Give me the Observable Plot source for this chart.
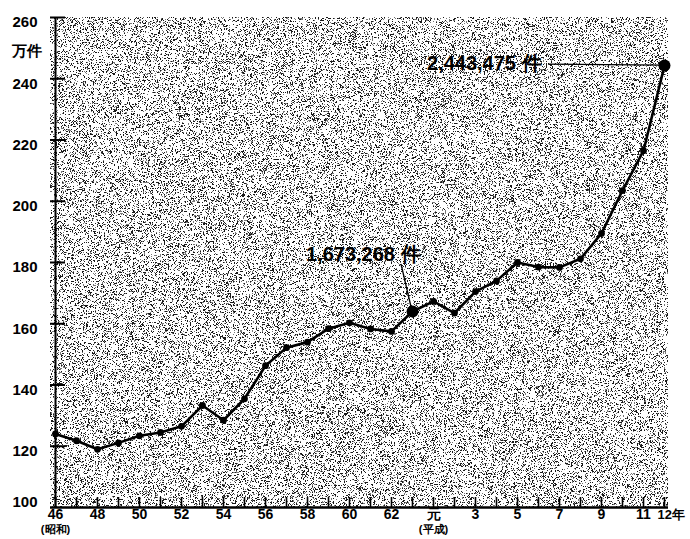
<!DOCTYPE html>
<html>
<head>
<meta charset="utf-8">
<script src="https://cdn.jsdelivr.net/npm/d3@7"></script>
<script src="https://cdn.jsdelivr.net/npm/@observablehq/plot@0.6"></script>
<style>
  html, body { margin: 0; padding: 0; background: white; }
</style>
</head>
<body>
<div id="chart"></div>
<script>
// 年（昭和46年〜平成12年）
const years = ["46","47","48","49","50","51","52","53","54","55","56","57","58","59","60","61","62","63",
               "元","2","3","4","5","6","7","8","9","10","11","12"];
// 認知件数（万件）
const counts = [124.0,121.8,119.0,121.1,123.4,124.5,126.5,133.3,128.5,135.5,146.3,152.2,154.0,158.4,160.3,158.3,157.5,164.0,
                167.3,163.5,170.5,174.0,180.0,178.5,178.4,181.2,189.5,203.5,216.5,244.3];
const yTicks = [100,120,140,160,180,200,220,240,260];
const shownYears = ["46","48","50","52","54","56","58","60","62","元","3","5","7","9","11"];
const lastYear = "12";
const eras = [{at: "46", label: "(昭和)"}, {at: "元", label: "(平成)"}];
const highlightYears = ["63", "12"];
const highlightLabels = ["1,673,268 件", "2,443,475 件"];

const data = years.map((y, i) => ({year: y, value: counts[i]}));
const highlights = highlightYears.map((y, i) => ({year: y, value: counts[years.indexOf(y)], label: highlightLabels[i]}));

const font = "'Liberation Sans', Arial, Helvetica, sans-serif";

const plot = Plot.plot({
  width: 690,
  height: 539,
  marginLeft: 50,
  marginRight: 22,
  marginTop: 17,
  marginBottom: 32,
  style: {fontFamily: font, background: "white", color: "black"},
  x: {type: "point", domain: years, padding: 0, axis: null},
  y: {domain: [100, 260], axis: null},
  marks: [
    Plot.frame({fill: "white", stroke: null}),
    // axes lines
    Plot.ruleX([years[0]], {stroke: "black", strokeWidth: 2}),
    Plot.ruleY([100], {stroke: "black", strokeWidth: 2.5}),
    // inward ticks
    Plot.tickY(yTicks.filter(d => d > 100), {y: d => d, insetRight: 603, stroke: "black", strokeWidth: 2}),
    Plot.tickX(years, {x: d => d, insetTop: 480, stroke: "black", strokeWidth: 1.6}),
    // y labels
    Plot.text(yTicks.filter(d => d > 100), {y: d => d, frameAnchor: "left", dx: -13, dy: 5, textAnchor: "end",
      text: d => String(d), fontSize: 15, fontWeight: "bold"}),
    Plot.text([100], {y: d => d, frameAnchor: "left", dx: -13, dy: -5, textAnchor: "end",
      text: d => String(d), fontSize: 15, fontWeight: "bold"}),
    Plot.text(["万件"], {frameAnchor: "top-left", dx: -9, dy: 28, textAnchor: "end", text: d => d,
      fontSize: 15, fontWeight: "bold"}),
    // x labels
    Plot.text(shownYears, {x: d => d, frameAnchor: "bottom", dy: 11, text: d => d, fontSize: 14, fontWeight: "bold"}),
    Plot.text([lastYear], {x: d => d, frameAnchor: "bottom", dy: 11, dx: -7, textAnchor: "start", text: d => d + "年",
      fontSize: 13, fontWeight: "bold"}),
    Plot.text(eras, {x: "at", frameAnchor: "bottom", dy: 25, text: "label", fontSize: 11, fontWeight: "bold"}),
    // series
    Plot.line(data, {x: "year", y: "value", stroke: "black", strokeWidth: 2.6}),
    Plot.dot(data, {x: "year", y: "value", r: 3.4, fill: "black", stroke: null}),
    Plot.dot(highlights, {x: "year", y: "value", r: 6, fill: "black", stroke: null}),
    // annotations
    Plot.text([highlights[0]], {x: "year", y: "value", text: "label", dx: 8, dy: -57, textAnchor: "end",
      fontSize: 20, fontWeight: "bold", fill: "black"}),
    Plot.text([highlights[1]], {x: "year", y: "value", text: "label", dx: -123, dy: -2, textAnchor: "end",
      fontSize: 20, fontWeight: "bold", fill: "black"})
  ]
});

const svg = d3.select(plot);

// stipple (printed screen) texture inside the plotting frame, drawn on a canvas
const frameRect = svg.select("g[aria-label='frame'] rect").node() || svg.select("rect[aria-label='frame']").node();
if (frameRect) {
  const fx = +frameRect.getAttribute("x"), fy = +frameRect.getAttribute("y");
  const fw = +frameRect.getAttribute("width"), fh = +frameRect.getAttribute("height");
  const cv = document.createElement("canvas");
  cv.width = fw; cv.height = fh;
  const ctx = cv.getContext("2d");
  const img = ctx.createImageData(fw, fh);
  let s = 123456789 >>> 0;
  const hash = () => { s ^= s << 13; s >>>= 0; s ^= s >>> 17; s ^= s << 5; s >>>= 0; return s / 4294967296; };
  for (let i = 0; i < fw * fh; i++) {
    const r = hash();
    const v = r < 0.17 ? 25 : r < 0.26 ? 120 : 255;
    img.data[4 * i] = img.data[4 * i + 1] = img.data[4 * i + 2] = v;
    img.data[4 * i + 3] = 255;
  }
  ctx.putImageData(img, 0, 0);
  const image = document.createElementNS("http://www.w3.org/2000/svg", "image");
  image.setAttribute("x", fx); image.setAttribute("y", fy);
  image.setAttribute("width", fw); image.setAttribute("height", fh);
  image.setAttribute("preserveAspectRatio", "none");
  image.setAttribute("href", cv.toDataURL("image/png"));
  frameRect.parentNode.insertBefore(image, frameRect.nextSibling);
}

// leader lines
const xs = plot.scale("x"), ys = plot.scale("y");
const leaders = [{i: 0, dx: -11, dy: -47}, {i: 1, dx: -116, dy: -1}];
svg.append("g").selectAll("line").data(leaders).join("line")
  .attr("x1", d => xs.apply(highlights[d.i].year) + d.dx)
  .attr("y1", d => ys.apply(highlights[d.i].value) + d.dy)
  .attr("x2", d => xs.apply(highlights[d.i].year))
  .attr("y2", d => ys.apply(highlights[d.i].value))
  .attr("stroke", "black").attr("stroke-width", 1.3);

document.getElementById("chart").appendChild(plot);
</script>
</body>
</html>
